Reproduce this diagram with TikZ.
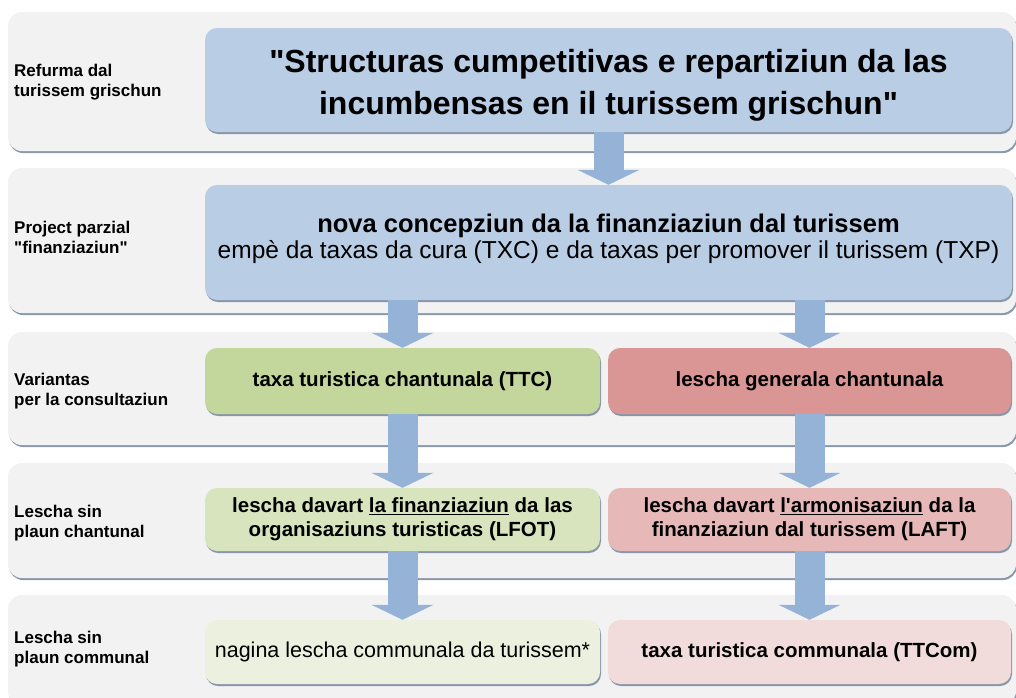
\documentclass[tikz,border=0pt]{standalone}
\usepackage{fontspec}
\setmainfont{Liberation Sans}[Ligatures=TeXOff]
\usetikzlibrary{arrows.meta,shadows}
\definecolor{bandgray}{HTML}{F2F2F2}
\definecolor{shadowgray}{HTML}{7E8DA3}
\definecolor{boxblue}{HTML}{B9CDE5}
\definecolor{arrowblue}{HTML}{95B3D7}
\definecolor{greenA}{HTML}{C3D69B}
\definecolor{greenB}{HTML}{D7E4BD}
\definecolor{greenC}{HTML}{EBF1DE}
\definecolor{redA}{HTML}{D99694}
\definecolor{redB}{HTML}{E6B9B8}
\definecolor{redC}{HTML}{F2DCDB}
\begin{document}
\begin{tikzpicture}[x=1pt,y=-1pt,
    band/.style={fill=bandgray,rounded corners=14pt,minimum width=1008pt,inner sep=0pt,
      drop shadow={shadow xshift=1pt,shadow yshift=-2pt,fill=shadowgray,opacity=.9}},
    box/.style={rounded corners=12pt,inner sep=0pt,align=center,
      font=\bfseries\fontsize{20.5}{24}\selectfont,
      drop shadow={shadow xshift=1pt,shadow yshift=-2pt,fill=shadowgray,opacity=.9}},
    boxtext/.style={inner sep=0pt,align=center},
    rowlabel/.style={anchor=west,align=left,inner sep=0pt,font=\bfseries\fontsize{17}{20}\selectfont},
    flow/.style={line width=30pt,draw=arrowblue,-{Triangle[width=62pt,length=15pt,line width=0pt]}}]
  \clip (0,0) rectangle (1016,697);
  \fill[white] (0,0) rectangle (1016,697);
  % rows
  \node[band,minimum height=139pt] (r1) at (512,81.5) {};
  \node[band,minimum height=145pt] (r2) at (512,240.5) {};
  \node[band,minimum height=113pt] (r3) at (512,388.5) {};
  \node[band,minimum height=115pt] (r4) at (512,520.5) {};
  \node[band,minimum height=110pt] (r5) at (512,650) {};
  \node[rowlabel] (t1) at (14,82) {Refurma dal\\turissem grischun};
  \node[rowlabel] (t2) at (14,237) {Project parzial\\"finanziaziun"};
  \node[rowlabel] (t3) at (14,391) {Variantas\\per la consultaziun};
  \node[rowlabel] (t4) at (14,523) {Lescha sin\\plaun chantunal};
  \node[rowlabel] (t5) at (14,649) {Lescha sin\\plaun communal};
  % boxes
  \node[box,fill=boxblue,minimum width=807pt,minimum height=104pt] (b1) at (608.5,80) {};
  \node[boxtext,font=\bfseries\fontsize{32}{42}\selectfont] (b1t) at (608.5,85)
    {"Structuras cumpetitivas e repartiziun da las\\incumbensas en il turissem grischun"};
  \node[box,fill=boxblue,minimum width=807pt,minimum height=115pt] (b2) at (608.5,242.5) {};
  \node[boxtext,font=\fontsize{24.5}{26}\selectfont] (b2t) at (608.5,239)
    {{\bfseries\fontsize{25.5}{26}\selectfont nova concepziun da la finanziaziun dal turissem}\\
     empè da taxas da cura (TXC) e da taxas per promover il turissem (TXP)};
  \node[box,fill=greenA,minimum width=395pt,minimum height=66pt] (v1) at (402.5,381)
    {taxa turistica chantunala (TTC)};
  \node[box,fill=redA,minimum width=403pt,minimum height=66pt] (v2) at (809.5,381)
    {lescha generala chantunala};
  \node[box,fill=greenB,minimum width=395pt,minimum height=63pt] (l1) at (402.5,519.5)
    {lescha davart \underline{la finanziaziun} da las\\organisaziuns turisticas (LFOT)};
  \node[box,fill=redB,minimum width=403pt,minimum height=63pt] (l2) at (809.5,519.5)
    {lescha davart \underline{l'armonisaziun} da la\\finanziaziun dal turissem (LAFT)};
  \node[box,fill=greenC,minimum width=395pt,minimum height=64pt,font=\fontsize{21.5}{24}\selectfont] (c1) at (402.5,652)
    {nagina lescha communala da turissem*};
  \node[box,fill=redC,minimum width=403pt,minimum height=64pt] (c2) at (809.5,652)
    {taxa turistica communala (TTCom)};
  % arrows
  \draw[flow] (b1.south) to (b2.north);
  \draw[flow] (b2.south -| v1.north) to (v1.north);
  \draw[flow] (b2.south -| v2.north) to (v2.north);
  \draw[flow] (v1.south) to (l1.north);
  \draw[flow] (v2.south) to (l2.north);
  \draw[flow] (l1.south) to (c1.north);
  \draw[flow] (l2.south) to (c2.north);
\end{tikzpicture}
\end{document}
